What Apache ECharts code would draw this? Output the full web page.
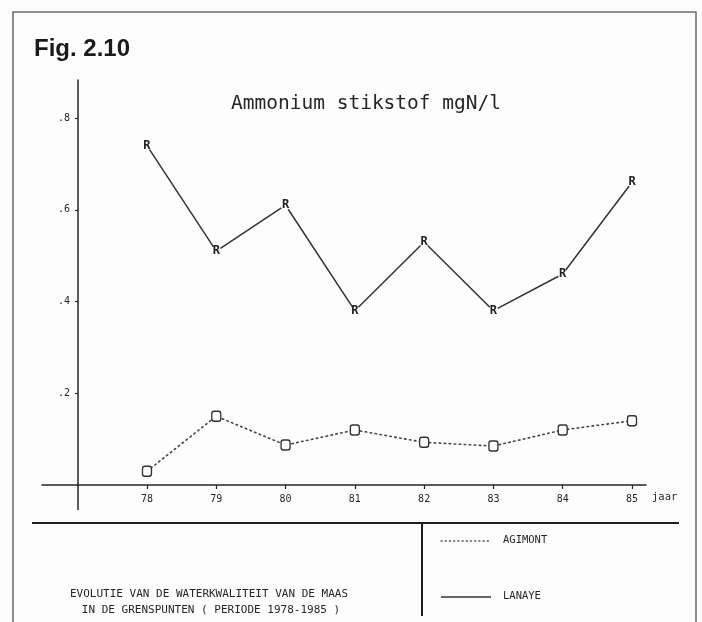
<!DOCTYPE html>
<html>
<head>
<meta charset="utf-8">
<script src="https://cdn.jsdelivr.net/npm/echarts@6/dist/echarts.min.js"></script>
<style>
  html, body { margin: 0; padding: 0; background: #fdfdfd; }
  #chart { width: 702px; height: 622px; }
</style>
</head>
<body>
<div id="chart"></div>
<script>
// Measuring years (19xx) along the horizontal axis
const years = [78, 79, 80, 81, 82, 83, 84, 85];
// Ammonium nitrogen, mg N per litre, at the two border stations
const agimont = [0.03, 0.15, 0.087, 0.12, 0.093, 0.085, 0.12, 0.14];
const lanaye = [0.74, 0.51, 0.61, 0.38, 0.53, 0.38, 0.46, 0.66];
// Y tick values and their printed labels
const yTicks = [0.2, 0.4, 0.6, 0.8];
const yTickLabels = ['.2', '.4', '.6', '.8'];

const seriesNames = ['AGIMONT', 'LANAYE'];
const mono = 'DejaVu Sans Mono';
const ink = '#262626';

const chart = echarts.init(document.getElementById('chart'), null, { renderer: 'canvas' });

const pairs = vals => years.map((y, i) => [y, vals[i]]);

chart.setOption({
  animation: false,
  backgroundColor: '#fdfdfd',
  title: [
    {
      text: 'Fig. 2.10',
      left: 29, top: 32,
      textStyle: { fontFamily: 'Liberation Sans', fontWeight: 'bold', fontSize: 24, color: '#1a1a1a' }
    },
    {
      text: 'Ammonium stikstof mgN/l',
      left: 226, top: 89,
      textStyle: { fontFamily: mono, fontWeight: 'normal', fontSize: 19.5, color: ink }
    }
  ],
  grid: { left: 42, right: 56, top: 80, bottom: 137 },
  xAxis: {
    type: 'value',
    min: 76.485,
    max: 85.202,
    name: 'jaar',
    nameLocation: 'end',
    nameGap: 6,
    nameTextStyle: { fontFamily: mono, fontSize: 10.5, color: ink, verticalAlign: 'top', padding: [7, 0, 0, 0] },
    axisLine: { show: true, onZero: false, lineStyle: { color: ink, width: 1.5 } },
    axisTick: { show: true, customValues: years, length: 4, lineStyle: { color: ink, width: 1.2 } },
    axisLabel: {
      customValues: years,
      formatter: v => String(v),
      margin: 9,
      fontFamily: mono, fontSize: 10, color: ink
    },
    splitLine: { show: false }
  },
  yAxis: {
    type: 'value',
    min: 0,
    max: 0.883,
    offset: -36,
    axisLine: { show: true, onZero: false, lineStyle: { color: ink, width: 1.5 } },
    axisTick: { show: true, customValues: yTicks, length: 3, lineStyle: { color: ink, width: 1.2 } },
    axisLabel: {
      customValues: yTicks,
      formatter: v => yTickLabels[yTicks.findIndex(t => Math.abs(t - v) < 1e-9)],
      margin: 8,
      fontFamily: mono, fontSize: 10, color: ink
    },
    splitLine: { show: false }
  },
  series: [
    {
      name: seriesNames[0],
      type: 'line',
      data: pairs(agimont),
      symbol: 'roundRect',
      symbolSize: [9, 10],
      itemStyle: { color: '#fdfdfd', borderColor: '#333', borderWidth: 1.4 },
      lineStyle: { color: '#444', width: 1.6, type: [1.5, 3.5], cap: 'round' },
      z: 2
    },
    {
      name: seriesNames[1],
      type: 'line',
      data: pairs(lanaye),
      symbol: 'circle',
      symbolSize: 10,
      itemStyle: { color: '#fdfdfd', borderWidth: 0 },
      lineStyle: { color: '#333', width: 1.5 },
      label: {
        show: true,
        position: 'inside',
        formatter: 'R',
        fontFamily: mono, fontWeight: 'bold', fontSize: 12, color: '#222'
      },
      z: 3
    }
  ],
  graphic: [
    // page frame
    {
      type: 'rect', silent: true,
      shape: { x: 13, y: 12, width: 683, height: 620 },
      style: { fill: 'none', stroke: '#6a6a6a', lineWidth: 1.5 }
    },
    // vertical axis runs on a little below the year axis
    {
      type: 'line', silent: true,
      shape: { x1: 78, y1: 485, x2: 78, y2: 510 },
      style: { stroke: ink, lineWidth: 1.5 }
    },
    // separator between plot and caption block
    {
      type: 'line', silent: true,
      shape: { x1: 32, y1: 523, x2: 679, y2: 523 },
      style: { stroke: '#1e1e1e', lineWidth: 2 }
    },
    {
      type: 'line', silent: true,
      shape: { x1: 422, y1: 523, x2: 422, y2: 616 },
      style: { stroke: '#1e1e1e', lineWidth: 2 }
    },
    // legend keys
    {
      type: 'line', silent: true,
      shape: { x1: 441, y1: 541, x2: 491, y2: 541 },
      style: { stroke: '#555', lineWidth: 1.3, lineDash: [1.2, 3], lineCap: 'round' }
    },
    {
      type: 'text', silent: true, left: 503, top: 535,
      style: { text: seriesNames[0], fontFamily: mono, fontSize: 10.5, fill: ink }
    },
    {
      type: 'line', silent: true,
      shape: { x1: 441, y1: 597, x2: 491, y2: 597 },
      style: { stroke: '#333', lineWidth: 1.5 }
    },
    {
      type: 'text', silent: true, left: 503, top: 591,
      style: { text: seriesNames[1], fontFamily: mono, fontSize: 10.5, fill: ink }
    },
    // caption
    {
      type: 'text', silent: true, x: 209, y: 594,
      style: {
        text: 'EVOLUTIE VAN DE WATERKWALITEIT VAN DE MAAS',
        fontFamily: mono, fontSize: 11, fill: ink, align: 'center', verticalAlign: 'middle'
      }
    },
    {
      type: 'text', silent: true, x: 211, y: 610,
      style: {
        text: 'IN DE GRENSPUNTEN ( PERIODE 1978-1985 )',
        fontFamily: mono, fontSize: 11, fill: ink, align: 'center', verticalAlign: 'middle'
      }
    }
  ]
});
</script>
</body>
</html>
